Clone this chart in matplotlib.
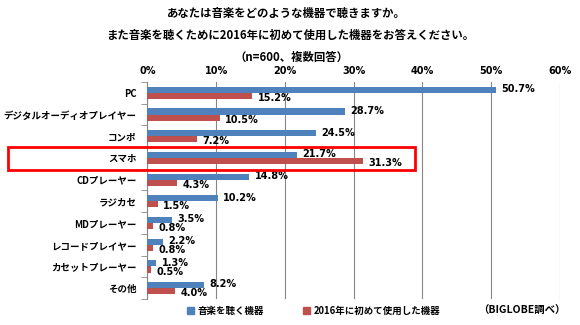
import matplotlib
matplotlib.use("Agg")
import matplotlib.pyplot as plt
import matplotlib.patches as mpatches
import numpy as np
from matplotlib.ticker import FixedLocator, PercentFormatter

plt.rcParams['font.family'] = ['Noto Sans CJK JP', 'DejaVu Sans']

categories = ["PC", "デジタルオーディオプレイヤー", "コンポ", "スマホ", "CDプレーヤー",
              "ラジカセ", "MDプレーヤー", "レコードプレイヤー", "カセットプレーヤー", "その他"]
listen_devices = [50.7, 28.7, 24.5, 21.7, 14.8, 10.2, 3.5, 2.2, 1.3, 8.2]
first_used_2016 = [15.2, 10.5, 7.2, 31.3, 4.3, 1.5, 0.8, 0.8, 0.5, 4.0]
series_names = ["音楽を聴く機器", "2016年に初めて使用した機器"]
x_ticks = [0, 10, 20, 30, 40, 50, 60]

blue = "#4F81BD"
red = "#C0504D"

fig = plt.figure(figsize=(5.8, 3.25), dpi=100)
ax = fig.add_axes([0.2543, 0.08, 0.7112, 0.6677])

y = np.arange(len(categories))
h = 0.28
ax.barh(y - h / 2, listen_devices, height=h, color=blue, zorder=3)
ax.barh(y + h / 2, first_used_2016, height=h, color=red, zorder=3)

for yi, v in zip(y, listen_devices):
    ax.annotate(f"{v:.1f}%", (v, yi - h / 2), xytext=(4, 0.5), textcoords="offset points",
                va="center", ha="left", fontsize=7, fontweight="bold", family="DejaVu Sans")
for yi, v in zip(y, first_used_2016):
    ax.annotate(f"{v:.1f}%", (v, yi + h / 2), xytext=(4, -1.5), textcoords="offset points",
                va="center", ha="left", fontsize=7, fontweight="bold", family="DejaVu Sans")

ax.set_xlim(0, 60)
ax.set_ylim(len(categories) - 0.5, -0.5)
ax.xaxis.set_major_locator(FixedLocator(x_ticks))
ax.xaxis.set_major_formatter(PercentFormatter(decimals=0))
ax.xaxis.tick_top()
ax.tick_params(axis="x", length=0, pad=4, labelsize=7)
for lab in ax.get_xticklabels():
    lab.set_fontweight("bold")
    lab.set_family("DejaVu Sans")
ax.grid(axis="x", color="#868686", linewidth=0.8, zorder=0)

ax.set_yticks(y)
ax.set_yticklabels(categories, fontsize=6.8, fontweight="bold")
ax.yaxis.set_minor_locator(FixedLocator(np.arange(-0.5, len(categories), 1)))
ax.tick_params(axis="y", which="major", length=0, pad=8)
ax.tick_params(axis="y", which="minor", length=4, color="#868686")

for s in ["top", "right", "bottom"]:
    ax.spines[s].set_visible(False)
ax.spines["left"].set_color("#868686")

fig.text(0.493, 0.96, "あなたは音楽をどのような機器で聴きますか。", ha="center", va="center",
         fontsize=8.2, fontweight="bold")
fig.text(0.5, 0.89, "また音楽を聴くために2016年に初めて使用した機器をお答えください。", ha="center", va="center",
         fontsize=8.2, fontweight="bold")
fig.text(0.502, 0.825, "（n=600、複数回答）", ha="center", va="center",
         fontsize=8.2, fontweight="bold")

# legend
handles = [mpatches.Patch(color=blue, label=series_names[0]),
           mpatches.Patch(color=red, label=series_names[1])]
fig.legend(handles=handles, loc="center", bbox_to_anchor=(0.541, 0.043), ncol=2, frameon=False,
           prop={"size": 6.8, "weight": "bold"}, handlelength=0.7, handleheight=0.7,
           columnspacing=4.2, handletextpad=0.4)
fig.text(0.975, 0.043, "（BIGLOBE調べ）", ha="right", va="center", fontsize=7.5, fontweight="bold")

# highlight box around スマホ
fig.patches.append(mpatches.Rectangle((0.0138, 0.4769), 0.7017, 0.0708, transform=fig.transFigure,
                                      fill=False, edgecolor="#FF0000", linewidth=2, zorder=10))

fig.savefig("out.png", dpi=100)
